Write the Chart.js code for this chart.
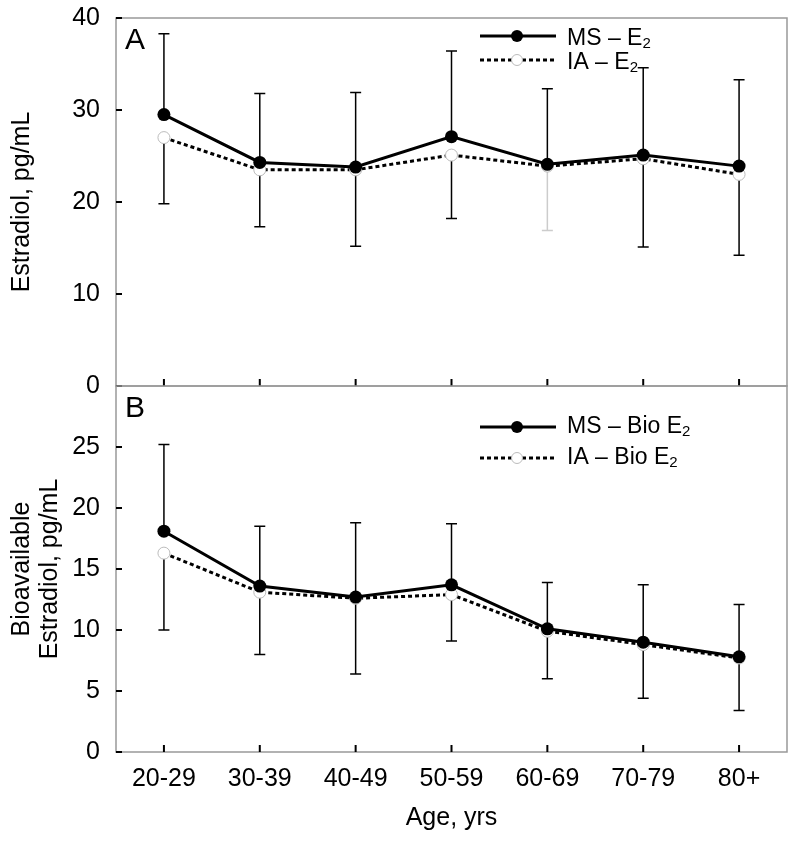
<!DOCTYPE html>
<html>
<head>
<meta charset="utf-8">
<script src="https://cdn.jsdelivr.net/npm/chart.js@4"></script>
<style>
  body { margin: 0; background: #fff; overflow: hidden; }
  #wrap { position: relative; width: 800px; height: 842px; overflow: hidden; }
  canvas { position: absolute; left: 0; }
  #cA { top: -13px; }
  #cB { top: 355px; }
</style>
</head>
<body>
<div id="wrap">
  <canvas id="cA" width="800" height="430"></canvas>
  <canvas id="cB" width="800" height="487"></canvas>
</div>
<script>
// categories
const edades = ['20-29', '30-39', '40-49', '50-59', '60-69', '70-79', '80+']

// panel A - estradiol
const msE2 = [29.5, 24.3, 23.8, 27.1, 24.1, 25.1, 23.9]
const iaE2 = [27.0, 23.5, 23.5, 25.1, 23.9, 24.7, 23.0]
const e2Sup = [38.3, 31.8, 31.9, 36.4, 32.3, 34.6, 33.3]
const e2Inf = [19.8, 17.3, 15.2, 18.2, 16.9, 15.1, 14.2]
const ticksA = [0, 10, 20, 30, 40]

// panel B - bioavailable estradiol
const msBio = [18.1, 13.6, 12.7, 13.7, 10.1, 9.0, 7.8]
const iaBio = [16.3, 13.1, 12.6, 12.9, 9.9, 8.8, 7.7]
const bioSup = [25.2, 18.5, 18.8, 18.7, 13.9, 13.7, 12.1]
const bioInf = [10.0, 8.0, 6.4, 9.1, 6.0, 4.4, 3.4]
const ticksB = [0, 5, 10, 15, 20, 25]

const FONT = "'Liberation Sans', Arial, sans-serif"
Chart.defaults.font.family = FONT
Chart.defaults.color = '#000'

// error bars: upper from MS point, lower from IA point
function barrasError(sup, inf, grises) {
  return {
    id: 'barras',
    beforeDatasetsDraw(chart) {
      const ctx = chart.ctx
      const x = chart.scales.x
      const y = chart.scales.y
      const ms = chart.data.datasets[0].data
      const ia = chart.data.datasets[1].data
      ctx.save()
      ctx.lineWidth = 1.5
      for (let i = 0; i < ms.length; i++) {
        const px = x.getPixelForValue(i)
        // upper
        ctx.strokeStyle = '#000'
        ctx.beginPath()
        ctx.moveTo(px, y.getPixelForValue(ms[i]))
        ctx.lineTo(px, y.getPixelForValue(sup[i]))
        ctx.moveTo(px - 5.5, y.getPixelForValue(sup[i]))
        ctx.lineTo(px + 5.5, y.getPixelForValue(sup[i]))
        ctx.stroke()
        // lower
        ctx.strokeStyle = grises.includes(i) ? '#ccc' : '#000'
        ctx.beginPath()
        ctx.moveTo(px, y.getPixelForValue(ia[i]))
        ctx.lineTo(px, y.getPixelForValue(inf[i]))
        ctx.moveTo(px - 5.5, y.getPixelForValue(inf[i]))
        ctx.lineTo(px + 5.5, y.getPixelForValue(inf[i]))
        ctx.stroke()
      }
      ctx.restore()
    }
  }
}

// frame, inner ticks, panel letter and legend
function marco(letra, yTicks, leyenda, filas, desfase) {
  return {
    id: 'marco',
    afterDatasetsDraw(chart) {
      const ctx = chart.ctx
      const a = chart.chartArea
      const x = chart.scales.x
      const y = chart.scales.y
      ctx.save()
      ctx.strokeStyle = '#999'
      ctx.lineWidth = 1.5
      ctx.strokeRect(a.left, a.top, a.right - a.left, a.bottom - a.top)
      ctx.strokeStyle = '#000'
      ctx.lineWidth = 2
      ctx.beginPath()
      yTicks.forEach(v => {
        const py = y.getPixelForValue(v)
        ctx.moveTo(a.left, py)
        ctx.lineTo(a.left + 6, py)
      })
      for (let i = 0; i < edades.length; i++) {
        const px = x.getPixelForValue(i)
        ctx.moveTo(px, a.bottom)
        ctx.lineTo(px, a.bottom - 7)
      }
      ctx.stroke()

      ctx.fillStyle = '#000'
      ctx.textBaseline = 'middle'
      ctx.font = '30px ' + FONT
      ctx.fillText(letra, a.left + 9, a.top + 23)

      // legend (rows relative to the plot top)
      leyenda.forEach((txt, k) => {
        const ly = a.top + filas[k]
        ctx.beginPath()
        ctx.lineWidth = 3
        ctx.strokeStyle = '#000'
        ctx.setLineDash(k === 0 ? [] : [4, 3])
        ctx.moveTo(480, ly)
        ctx.lineTo(556, ly)
        ctx.stroke()
        ctx.setLineDash([])
        ctx.beginPath()
        ctx.arc(517, ly, k === 0 ? 6 : 5.5, 0, Math.PI * 2)
        if (k === 0) {
          ctx.fillStyle = '#000'
          ctx.fill()
        } else {
          ctx.fillStyle = '#fff'
          ctx.fill()
          ctx.lineWidth = 1
          ctx.strokeStyle = '#bbb'
          ctx.stroke()
        }
        ctx.fillStyle = '#000'
        ctx.font = '23px ' + FONT
        ctx.fillText(txt, 567, ly + desfase)
        const w = ctx.measureText(txt).width
        ctx.font = '15px ' + FONT
        ctx.fillText('2', 567 + w, ly + desfase + 5)
      })
      ctx.restore()
    }
  }
}

function series(ms, ia) {
  return [{
    label: 'MS',
    data: ms,
    borderColor: '#000',
    backgroundColor: '#000',
    borderWidth: 3,
    pointRadius: 6.5,
    pointBorderWidth: 0,
    pointBackgroundColor: '#000',
    tension: 0
  }, {
    label: 'IA',
    data: ia,
    borderColor: '#000',
    borderWidth: 3,
    borderDash: [4, 3],
    pointRadius: 6,
    pointBorderWidth: 1,
    pointBorderColor: '#bbb',
    pointBackgroundColor: '#fff',
    tension: 0
  }]
}

const noPlugins = {
  legend: { display: false },
  tooltip: { enabled: false }
}

// Panel A
new Chart(document.getElementById('cA'), {
  type: 'line',
  data: { labels: edades, datasets: series(msE2, iaE2) },
  options: {
    responsive: false,
    animation: false,
    layout: { autoPadding: false, padding: { top: 6, right: 13, bottom: 4, left: 0 } },
    plugins: noPlugins,
    scales: {
      x: { display: false, offset: true },
      y: {
        min: 0, max: 40,
        afterFit: s => { s.width = 116 },
        afterBuildTicks: s => { s.ticks = ticksA.map(v => ({ value: v })) },
        grid: { display: false, drawTicks: false },
        border: { display: false },
        ticks: { padding: 16, font: { size: 25 } },
        title: { display: true, text: 'Estradiol, pg/mL', font: { size: 25 }, padding: { top: 7 } }
      }
    }
  },
  plugins: [barrasError(e2Sup, e2Inf, [4]), marco('A', ticksA, ['MS – E', 'IA – E'], [18, 42], 3)]
})

// Panel B
new Chart(document.getElementById('cB'), {
  type: 'line',
  data: { labels: edades, datasets: series(msBio, iaBio) },
  options: {
    responsive: false,
    animation: false,
    layout: { autoPadding: false, padding: { top: 6, right: 13, bottom: 0, left: 0 } },
    plugins: noPlugins,
    scales: {
      x: {
        offset: true,
        afterFit: s => { s.height = 90 },
        grid: { display: false, drawTicks: false },
        border: { display: false },
        ticks: { padding: 12, font: { size: 25 }, maxRotation: 0 },
        title: { display: true, text: 'Age, yrs', font: { size: 25 }, padding: { bottom: 9 } }
      },
      y: {
        min: 0, max: 30,
        afterFit: s => { s.width = 116 },
        afterBuildTicks: s => { s.ticks = ticksB.map(v => ({ value: v })) },
        grid: { display: false, drawTicks: false },
        border: { display: false },
        ticks: { padding: 16, font: { size: 25 } },
        title: {
          display: true,
          text: ['Bioavailable', 'Estradiol, pg/mL'],
          font: { size: 25, lineHeight: 1.12 },
          padding: { top: 8 }
        }
      }
    }
  },
  plugins: [barrasError(bioSup, bioInf, []), marco('B', ticksB, ['MS – Bio E', 'IA – Bio E'], [41, 72], 0)]
})
</script>
</body>
</html>
